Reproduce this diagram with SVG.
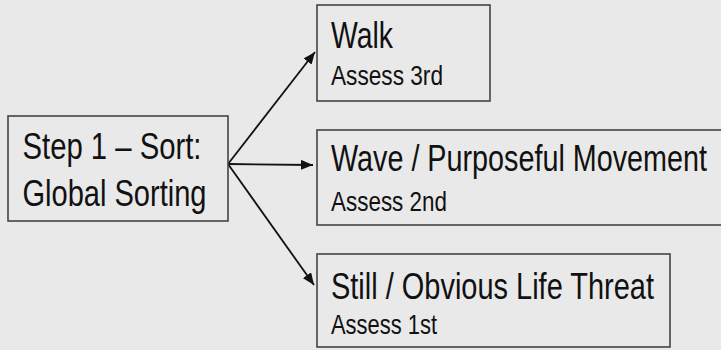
<svg xmlns="http://www.w3.org/2000/svg" width="721" height="350" viewBox="0 0 721 350">
<style>
.box{fill:#e9e9e9;stroke:#444;stroke-width:1.6}
.t{font-family:"Liberation Sans",Arial,sans-serif;fill:#111}
.big{font-size:37px}
.small{font-size:27px}
.conn{stroke:#111;stroke-width:1.8;fill:none}
</style>
<defs>
<marker id="ah" viewBox="0 0 12 10" refX="12" refY="5" markerWidth="12" markerHeight="10" markerUnits="userSpaceOnUse" orient="auto">
<path d="M0,0 L12,5 L0,10 Z" fill="#111"/>
</marker>
</defs>
<rect width="721" height="350" fill="#e9e9e9"/>
<g id="connectors">
<line class="conn" x1="228" y1="164" x2="315" y2="52" marker-end="url(#ah)"/>
<line class="conn" x1="228" y1="164" x2="313" y2="165" marker-end="url(#ah)"/>
<line class="conn" x1="228" y1="164" x2="314" y2="285" marker-end="url(#ah)"/>
</g>
<g id="sort">
<rect class="box" x="8" y="116" width="220" height="105"/>
<text class="t big" transform="translate(22.5,159) scale(0.8,1)" textLength="223.75" lengthAdjust="spacingAndGlyphs">Step 1 – Sort:</text>
<text class="t big" transform="translate(22.5,206) scale(0.8,1)" textLength="230" lengthAdjust="spacingAndGlyphs">Global Sorting</text>
</g>
<g id="walk">
<rect class="box" x="317" y="5" width="173" height="96"/>
<text class="t big" transform="translate(331,48) scale(0.8,1)" textLength="77.5" lengthAdjust="spacingAndGlyphs">Walk</text>
<text class="t small" transform="translate(331,85) scale(0.8,1)" textLength="140" lengthAdjust="spacingAndGlyphs">Assess 3rd</text>
</g>
<g id="wave">
<rect class="box" x="317" y="130" width="420" height="95"/>
<text class="t big" transform="translate(331,171) scale(0.8,1)" textLength="470" lengthAdjust="spacingAndGlyphs">Wave / Purposeful Movement</text>
<text class="t small" transform="translate(331,211) scale(0.8,1)" textLength="145" lengthAdjust="spacingAndGlyphs">Assess 2nd</text>
</g>
<g id="still">
<rect class="box" x="317" y="254" width="353" height="93"/>
<text class="t big" transform="translate(331,299) scale(0.8,1)" textLength="403.75" lengthAdjust="spacingAndGlyphs">Still / Obvious Life Threat</text>
<text class="t small" transform="translate(331,334) scale(0.8,1)" textLength="132.5" lengthAdjust="spacingAndGlyphs">Assess 1st</text>
</g>
</svg>
